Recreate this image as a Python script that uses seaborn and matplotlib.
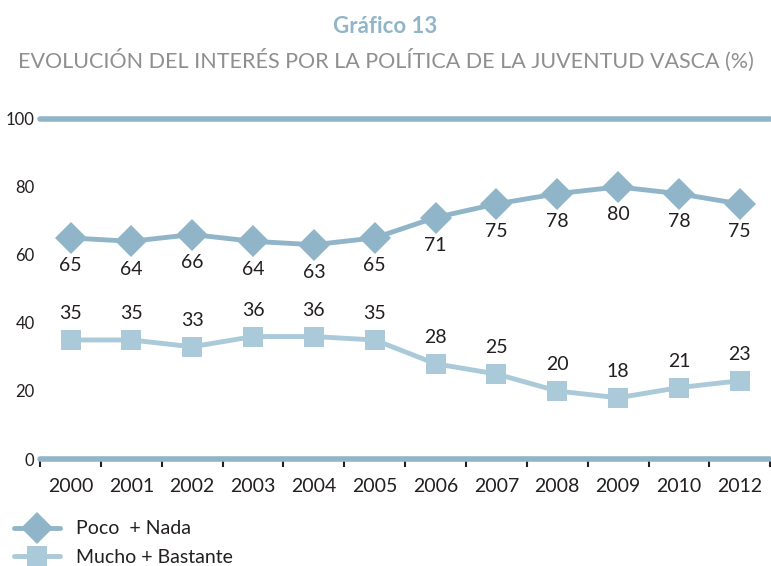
import pandas as pd
import matplotlib.pyplot as plt
import seaborn as sns
from matplotlib.lines import Line2D

# data
years = ['2000', '2001', '2002', '2003', '2004', '2005', '2006', '2007', '2008', '2009', '2010', '2012']
poco_nada = [65, 64, 66, 64, 63, 65, 71, 75, 78, 80, 78, 75]
mucho_bastante = [35, 35, 33, 36, 36, 35, 28, 25, 20, 18, 21, 23]
series_names = ['Poco  + Nada', 'Mucho + Bastante']

dark = '#91b5c8'
light = '#aac9d9'
text_col = '#231f20'

df = pd.DataFrame({
    'year': years * 2,
    'value': poco_nada + mucho_bastante,
    'serie': [series_names[0]] * len(years) + [series_names[1]] * len(years),
})
df['x'] = list(range(len(years))) * 2

sns.set_style('white')
plt.rcParams['font.family'] = ['Lato', 'DejaVu Sans']

fig = plt.figure(figsize=(7.71, 5.66), dpi=100)
ax = fig.add_axes([0.052, 0.189, 0.947, 0.601])

sns.lineplot(data=df, x='x', y='value', hue='serie', style='serie',
             palette={series_names[0]: dark, series_names[1]: light},
             markers={series_names[0]: 'D', series_names[1]: 's'},
             dashes=False, markersize=15, markeredgewidth=0, linewidth=3.5,
             legend=False, ax=ax)
# diamonds a bit larger
for ln in ax.lines:
    if ln.get_marker() == 'D':
        ln.set_markersize(16)

ax.set_xlim(-0.5, len(years) - 0.5)
ax.set_ylim(0, 100)
for s in ax.spines.values():
    s.set_visible(False)

ax.axhline(100, color=dark, lw=4, clip_on=False, zorder=1)
ax.axhline(0, color=dark, lw=4, clip_on=False, zorder=1)

ax.set_yticks([0, 20, 40, 60, 80, 100])
ax.set_yticklabels(['0', '20', '40', '60', '80', '100'], fontsize=12, color=text_col)
ax.tick_params(axis='y', length=0, pad=4)

ax.set_xticks(range(len(years)))
ax.set_xticklabels(years, fontsize=14, color=text_col)
ax.tick_params(axis='x', which='major', length=0, pad=14)
# small tick marks at category boundaries
ax.set_xticks([i - 0.5 for i in range(len(years) + 1)], minor=True)
ax.tick_params(axis='x', which='minor', bottom=True, length=6, width=1.5,
               color=text_col, direction='out')
ax.set_xlabel('')
ax.set_ylabel('')

for i, v in enumerate(poco_nada):
    ax.annotate(str(v), (i, v), xytext=(0, -14), textcoords='offset points',
                ha='center', va='top', fontsize=14, color=text_col)
for i, v in enumerate(mucho_bastante):
    ax.annotate(str(v), (i, v), xytext=(0, 13), textcoords='offset points',
                ha='center', va='bottom', fontsize=14, color=text_col)

fig.text(0.5, 0.953, 'Gráfico 13', ha='center', va='center', fontsize=16,
         fontweight='bold', color=dark)
fig.text(0.5, 0.893, 'EVOLUCIÓN DEL INTERÉS POR LA POLÍTICA DE LA JUVENTUD VASCA (%)',
         ha='center', va='center', fontsize=15.5, color='#8f8f8f')

handles = [
    Line2D([], [], color=dark, marker='D', markersize=16, markeredgewidth=0, lw=3.5),
    Line2D([], [], color=light, marker='s', markersize=15, markeredgewidth=0, lw=3.5),
]
fig.legend(handles, series_names, loc='lower left', bbox_to_anchor=(0.0, -0.024),
           frameon=False, fontsize=14, handlelength=2.4, handletextpad=0.8,
           labelspacing=0.6, labelcolor=text_col, borderaxespad=0.3)

fig.savefig('out.png', dpi=100)
